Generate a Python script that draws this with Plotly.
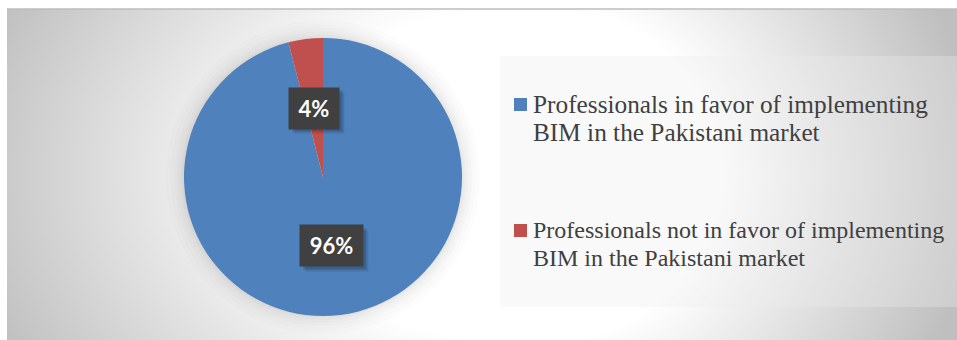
import base64
import math
import struct
import zlib

import numpy as np
import plotly.graph_objects as go

# ---- data -------------------------------------------------------------
labels = [
    "Professionals in favor of implementing<br>BIM in the Pakistani market",
    "Professionals not in favor of implementing<br>BIM in the Pakistani market",
]
values = [96, 4]
colors = ["#4F81BD", "#C0504D"]

W, H = 957, 340

# pie placement (pixels)
PIE_CX, PIE_CY, PIE_R = 323, 177, 139


def px(x):
    return x / W


def py(y):
    return 1 - y / H


# ---- background: soft radial gradient rendered as a grayscale PNG -----
def png_gray(arr):
    h, w = arr.shape
    raw = b"".join(b"\x00" + arr[i].tobytes() for i in range(h))

    def chunk(tag, data):
        c = struct.pack(">I", len(data)) + tag + data
        return c + struct.pack(">I", zlib.crc32(tag + data) & 0xFFFFFFFF)

    ihdr = struct.pack(">IIBBBBB", w, h, 8, 0, 0, 0, 0)
    return (b"\x89PNG\r\n\x1a\n" + chunk(b"IHDR", ihdr)
            + chunk(b"IDAT", zlib.compress(raw, 9)) + chunk(b"IEND", b""))


BG_X0, BG_Y0 = 7, 9
gx = np.arange(BG_X0, W) + 0.5
gy = np.arange(BG_Y0, H) + 0.5
XX, YY = np.meshgrid(gx, gy)
gcx, gcy = 530.0, 175.0
dx = XX - gcx
dx = np.where(dx < 0, dx / 560.0, dx / 430.0)
dy = (YY - gcy) / 380.0
t = np.sqrt(dx ** 2 + dy ** 2)
frac = np.clip((t - 0.45) / 0.55, 0, 1.08)
gray = np.clip(255 - frac * 59, 0, 255).astype(np.uint8)
bg_uri = "data:image/png;base64," + base64.b64encode(png_gray(gray)).decode()

# ---- figure -------------------------------------------------------------
fig = go.Figure()

fig.add_trace(go.Pie(
    labels=labels,
    values=values,
    marker=dict(colors=colors, line=dict(width=0)),
    sort=False,
    direction="clockwise",
    rotation=0,
    textinfo="none",
    hoverinfo="label+percent",
    showlegend=False,
    domain=dict(x=[px(PIE_CX - PIE_R), px(PIE_CX + PIE_R)],
                y=[py(PIE_CY + PIE_R), py(PIE_CY - PIE_R)]),
))

shapes = []

# top border line of the chart area
shapes.append(dict(type="line", xref="paper", yref="paper",
                   x0=px(BG_X0), x1=1, y0=py(BG_Y0), y1=py(BG_Y0),
                   line=dict(color="#BDBDBD", width=1.5), layer="below"))

# soft halo around the pie
for dr, a in [(18, 0.010), (14, 0.012), (10, 0.014), (7, 0.016), (4, 0.018), (2, 0.02)]:
    shapes.append(dict(type="circle", xref="paper", yref="paper",
                       x0=px(PIE_CX - PIE_R - dr), x1=px(PIE_CX + PIE_R + dr),
                       y0=py(PIE_CY + PIE_R + dr), y1=py(PIE_CY - PIE_R - dr),
                       fillcolor=f"rgba(0,0,0,{a})", line=dict(width=0),
                       layer="below"))

# legend panel
LEG_X0, LEG_Y0, LEG_Y1 = 500, 56, 307
shapes.append(dict(type="rect", xref="paper", yref="paper",
                   x0=px(LEG_X0), x1=1, y0=py(LEG_Y1), y1=py(LEG_Y0),
                   fillcolor="rgba(236,236,236,0.32)", line=dict(width=0),
                   layer="below"))

annotations = []

# legend entries: colour key + two text lines each
LEG_FAMILY = "Liberation Serif, Times New Roman, serif"
LEG_SIZES = [25.3, 24.0]
ITEM_TOP = [104, 230]      # vertical centre of first text line
LINE_STEP = 28
for i, (lab, col) in enumerate(zip(labels, colors)):
    yc = ITEM_TOP[i]
    shapes.append(dict(type="rect", xref="paper", yref="paper",
                       x0=px(514), x1=px(527), y0=py(yc + 7), y1=py(yc - 6),
                       fillcolor=col, line=dict(width=0)))
    for j, line in enumerate(lab.split("<br>")):
        annotations.append(dict(
            text=line, xref="paper", yref="paper",
            x=px(531), y=py(yc + j * LINE_STEP),
            xanchor="left", yanchor="middle", showarrow=False,
            font=dict(family=LEG_FAMILY, size=LEG_SIZES[i], color="#404040")))

# percentage labels placed at half radius along each slice's mid-angle
total = sum(values)
start = 0.0
BOX_H, PAD = 29, 6
for v in values:
    share = v / total
    mid = (start + share / 2) * 2 * math.pi
    start += share
    lx = PIE_CX + 0.5 * PIE_R * math.sin(mid)
    ly = PIE_CY - 0.5 * PIE_R * math.cos(mid)
    txt = f"{round(share * 100)}%"
    box_w = 13 * len(txt) + 12
    half_w = box_w / 2 + PAD
    half_h = BOX_H / 2 + PAD
    # drop shadow behind the label box
    for off, a in [(5, 0.10), (3, 0.16)]:
        shapes.append(dict(type="rect", xref="paper", yref="paper",
                           x0=px(lx - half_w + off), x1=px(lx + half_w + off),
                           y0=py(ly + half_h + off), y1=py(ly - half_h + off),
                           fillcolor=f"rgba(0,0,0,{a})", line=dict(width=0),
                           layer="above"))
    annotations.append(dict(
        text=txt, xref="paper", yref="paper", x=px(lx), y=py(ly),
        xanchor="center", yanchor="middle", showarrow=False,
        width=box_w, height=BOX_H, borderpad=PAD, bgcolor="#404040",
        font=dict(family="Lato", size=22, color="white", weight="bold")))

fig.update_layout(
    width=W, height=H,
    margin=dict(l=0, r=0, t=0, b=0),
    paper_bgcolor="white",
    plot_bgcolor="white",
    shapes=shapes,
    annotations=annotations,
    images=[dict(source=bg_uri, xref="paper", yref="paper",
                 x=px(BG_X0), y=py(BG_Y0), sizex=1 - px(BG_X0),
                 sizey=py(BG_Y0), xanchor="left", yanchor="top",
                 sizing="stretch", layer="below")],
)

fig.write_html("out.html")
